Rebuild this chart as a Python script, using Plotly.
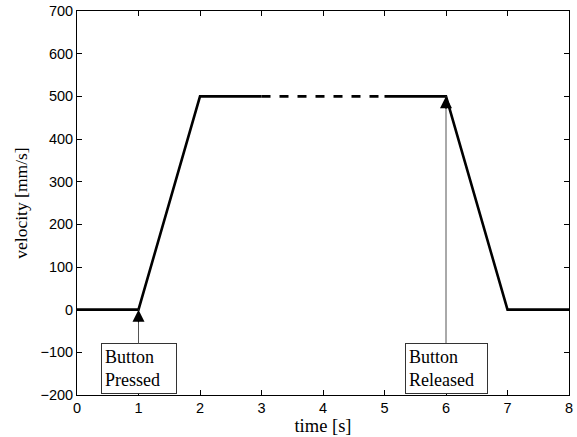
import plotly.graph_objects as go

# velocity profile: ramp up, constant cruise, ramp down
t_start = [0, 1, 2, 3]
v_start = [0, 0, 500, 500]
t_cruise = [3, 5]
v_cruise = [500, 500]
t_end = [5, 6, 7, 8]
v_end = [500, 500, 0, 0]

# event markers: (time, velocity at tip, box label, box centre velocity, box text width)
events = [
    (1, 0, "Button<br>Pressed", -138, 68),
    (6, 500, "Button<br>Released", -137, 75),
]

x_ticks = [0, 1, 2, 3, 4, 5, 6, 7, 8]
y_ticks = [-200, -100, 0, 100, 200, 300, 400, 500, 600, 700]

line_style = dict(color="black", width=2.6)

fig = go.Figure()
fig.add_trace(go.Scatter(x=t_start, y=v_start, mode="lines", line=line_style))
fig.add_trace(go.Scatter(x=t_cruise, y=v_cruise, mode="lines",
                         line=dict(color="black", width=2.6, dash="9px,9px")))
fig.add_trace(go.Scatter(x=t_end, y=v_end, mode="lines", line=line_style))

annotations = []
for tx, vy, label, box_y, box_w in events:
    # boxed label with thin gray leader to the tip
    annotations.append(dict(
        x=tx, y=vy, xref="x", yref="y",
        ax=tx, ay=box_y, axref="x", ayref="y",
        text=label, align="left", width=box_w, showarrow=True,
        arrowhead=0, arrowwidth=1, arrowcolor="#555555",
        font=dict(family="Liberation Serif", size=18, color="black"),
        bgcolor="white", bordercolor="#333333", borderwidth=1, borderpad=3,
    ))
    # solid black arrow head at the tip
    annotations.append(dict(
        x=tx, y=vy, xref="x", yref="y",
        ax=0, ay=14, text="", showarrow=True,
        arrowhead=2, arrowsize=2.0, arrowwidth=1.2, arrowcolor="black",
    ))

axis_common = dict(
    showline=True, mirror="ticks", linecolor="black", linewidth=1,
    ticks="inside", ticklen=5, tickcolor="black", showgrid=False, zeroline=False,
    automargin=False,
    tickfont=dict(family="Liberation Sans", size=14.5, color="black"),
)

fig.update_layout(
    width=577, height=437,
    margin=dict(l=77, r=8, t=11, b=42),
    paper_bgcolor="white", plot_bgcolor="white",
    showlegend=False,
    annotations=annotations,
    xaxis=dict(range=[0, 8], tickvals=x_ticks,
               title=dict(text="time [s]", standoff=0,
                          font=dict(family="Liberation Serif", size=18.5, color="black")),
               **axis_common),
    yaxis=dict(range=[-200, 700], tickvals=y_ticks,
               ticktext=[str(v).replace("-", "\u2212") for v in y_ticks],
               title=dict(text="velocity [mm/s]", standoff=8,
                          font=dict(family="Liberation Serif", size=17.5, color="black")),
               **axis_common),
)

fig.write_html("out.html")
